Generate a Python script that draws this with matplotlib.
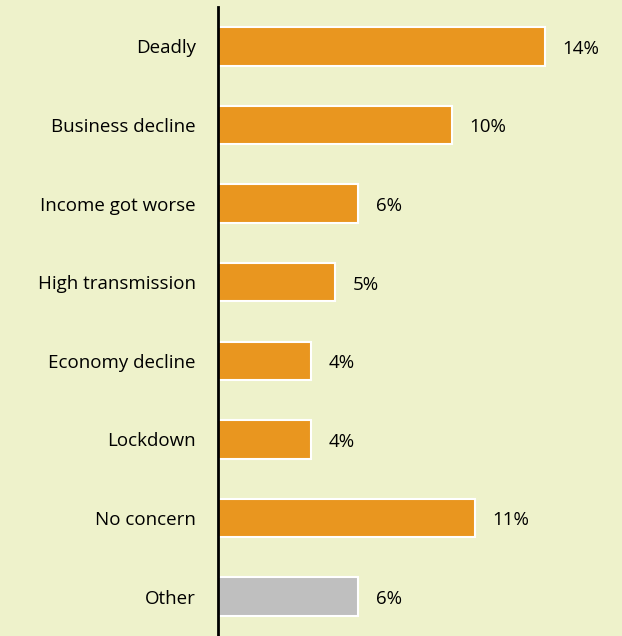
import matplotlib
matplotlib.use("Agg")
import matplotlib.pyplot as plt

categories = ["Deadly", "Business decline", "Income got worse", "High transmission",
              "Economy decline", "Lockdown", "No concern", "Other"]
values = [14, 10, 6, 5, 4, 4, 11, 6]
bar_colors = ["#E9961F"] * 7 + ["#BFBFBF"]
labels = [f"{v}%" for v in values]

bg = "#EEF2CB"
plt.rcParams['font.family'] = ['Open Sans', 'DejaVu Sans']

fig = plt.figure(figsize=(6.22, 6.36), dpi=100, facecolor=bg)
ax = fig.add_axes([218/622, 0, 1 - 218/622, 1 - 7/636], facecolor=bg)

y = list(range(len(categories)))
ax.barh(y, values, height=0.49, color=bar_colors, edgecolor="white", linewidth=1.5)
for yi, v, lab in zip(y, values, labels):
    ax.text(v + 0.75, yi + 0.03, lab, va="center", ha="left", fontsize=13.5, color="#000000")

ax.set_ylim(len(categories) - 0.5, -0.5)
ax.set_xlim(0, (622 - 218) / 23.36)
ax.set_yticks(y)
ax.set_yticklabels(categories, fontsize=13.5)
for t in ax.get_yticklabels():
    t.set_y(t.get_position()[1])
ax.tick_params(axis="y", length=0, pad=16)
ax.set_xticks([])
for s in ["top", "right", "bottom"]:
    ax.spines[s].set_visible(False)
ax.spines["left"].set_linewidth(2)
ax.spines["left"].set_color("#000000")

fig.savefig("out.png", dpi=100, facecolor=bg)
